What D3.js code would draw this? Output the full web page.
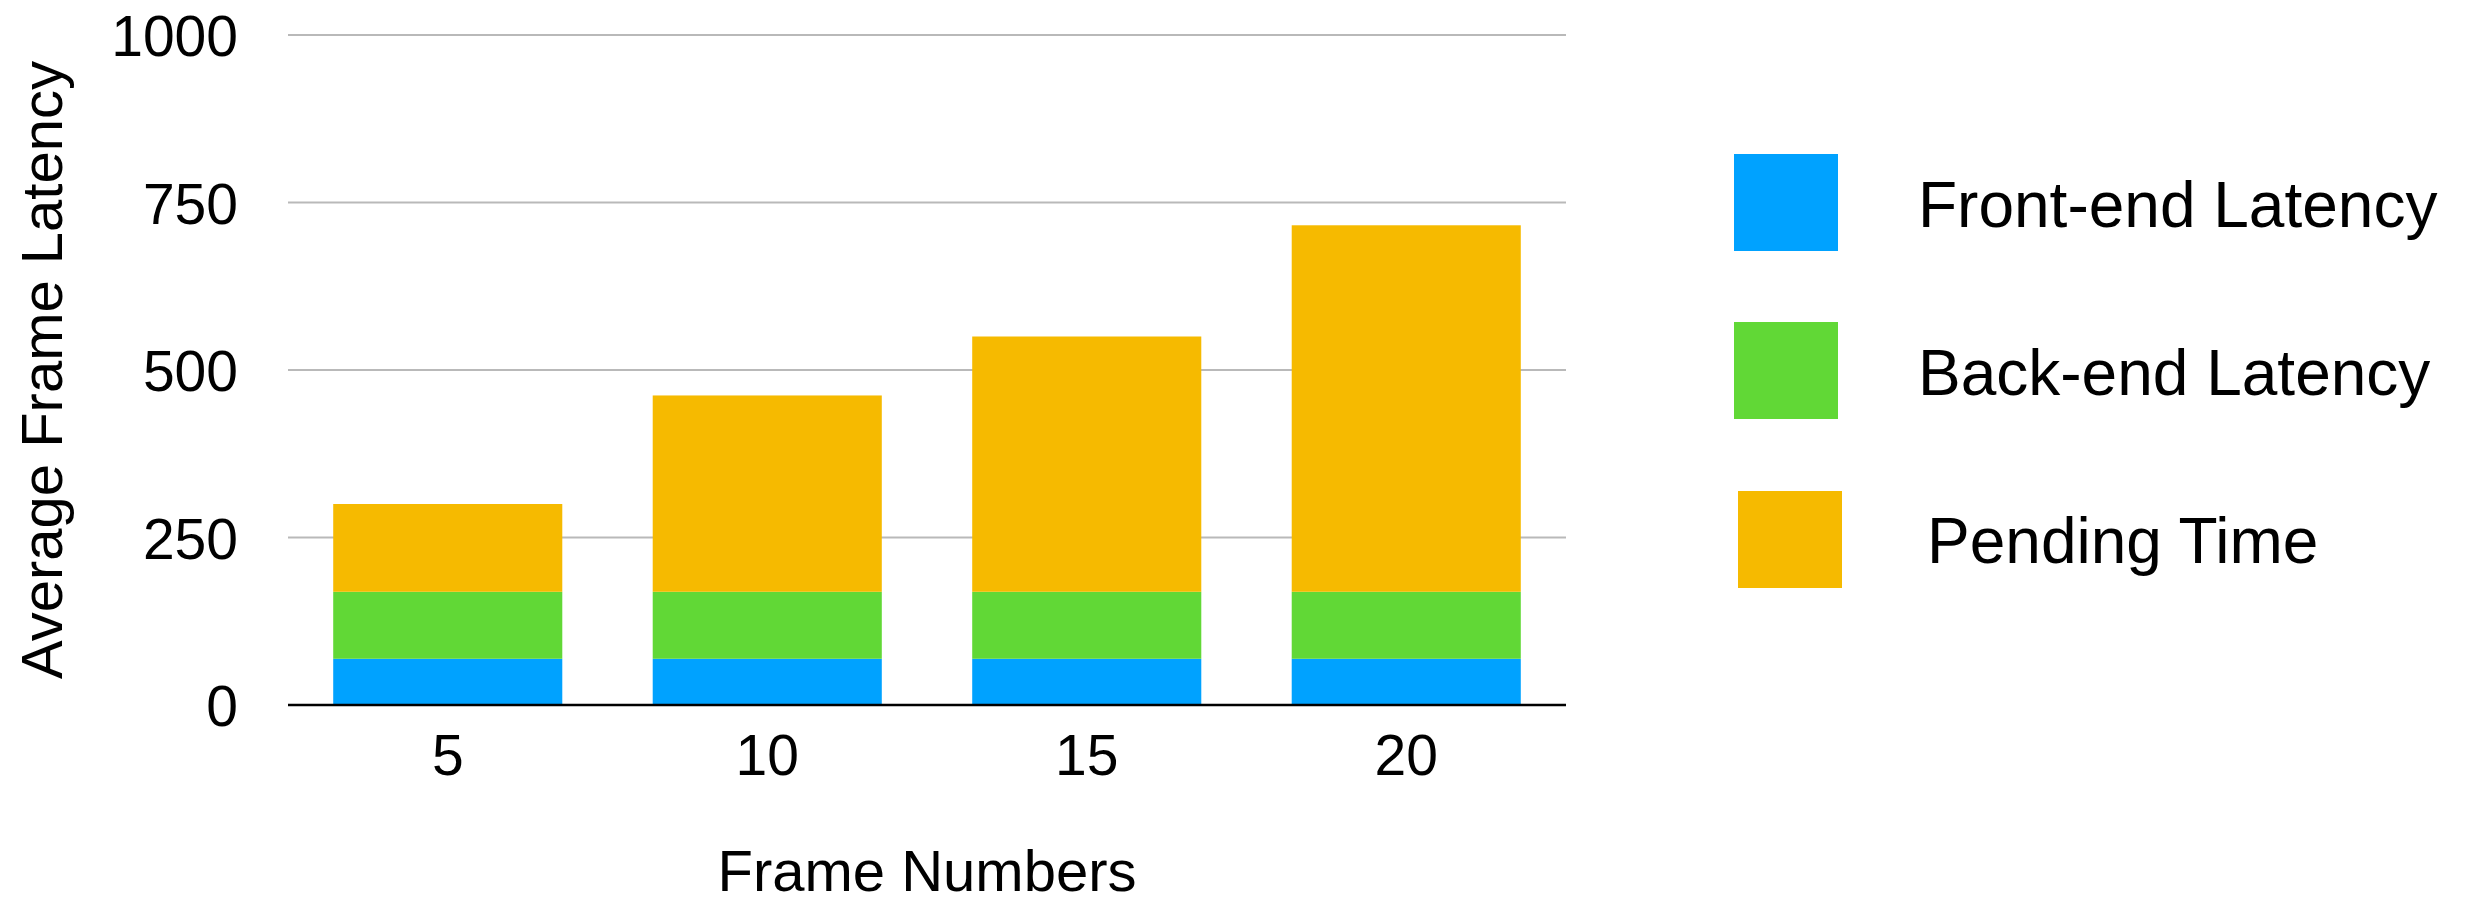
<!DOCTYPE html>
<html>
<head>
<meta charset="utf-8">
<script src="https://cdn.jsdelivr.net/npm/d3@7"></script>
<style>
  html, body { margin: 0; padding: 0; background: #fff; }
  svg { display: block; font-family: "Liberation Sans", Arial, Helvetica, sans-serif; }
</style>
</head>
<body>
<svg id="chart" width="2468" height="904"></svg>
<script>
// Frame counts on the x axis
const frameNumbers = ["5", "10", "15", "20"];

// Latency components (stacked bottom to top)
const frontEndLatency = [69, 69, 69, 69];
const backEndLatency  = [100, 100, 100, 100];
const pendingTime     = [131, 293, 381, 547];

const seriesNames  = ["Front-end Latency", "Back-end Latency", "Pending Time"];
const seriesColors = ["#00A2FF", "#61D836", "#F6BA00"];

const yTicks = [0, 250, 500, 750, 1000];

// Build rows for d3.stack
const rows = frameNumbers.map((f, i) => ({
  frame: f,
  "Front-end Latency": frontEndLatency[i],
  "Back-end Latency": backEndLatency[i],
  "Pending Time": pendingTime[i]
}));

const svg = d3.select("#chart");

const plot = { left: 288, right: 1566, top: 35, bottom: 705 };

const x = d3.scaleBand()
  .domain(frameNumbers)
  .range([plot.left, plot.right])
  .paddingInner(0.283)
  .paddingOuter(0.1415);

const y = d3.scaleLinear()
  .domain([0, 1000])
  .range([plot.bottom, plot.top]);

const color = d3.scaleOrdinal().domain(seriesNames).range(seriesColors);

// Horizontal gridlines
svg.append("g")
  .selectAll("line")
  .data(yTicks.filter(t => t > 0))
  .join("line")
  .attr("x1", plot.left)
  .attr("x2", plot.right)
  .attr("y1", d => y(d))
  .attr("y2", d => y(d))
  .attr("stroke", "#b9b9b9")
  .attr("stroke-width", 2.2);

// Y axis tick labels
const yAxis = d3.axisLeft(y)
  .tickValues(yTicks)
  .tickFormat(d3.format("d"))
  .tickSize(0)
  .tickPadding(50);
svg.append("g")
  .attr("transform", `translate(${plot.left},0)`)
  .call(yAxis)
  .call(g => g.select(".domain").remove())
  .call(g => g.selectAll("text")
    .attr("font-size", 57)
    .attr("fill", "#000")
    .attr("dy", "0.36em")
    .style("font-family", "'Liberation Sans', Arial, sans-serif"));

// Stacked bars
const stack = d3.stack().keys(seriesNames);
const layers = stack(rows);

svg.append("g")
  .selectAll("g")
  .data(layers)
  .join("g")
  .attr("fill", d => color(d.key))
  .selectAll("rect")
  .data(d => d)
  .join("rect")
  .attr("x", d => x(d.data.frame))
  .attr("width", x.bandwidth())
  .attr("y", d => y(d[1]))
  .attr("height", d => y(d[0]) - y(d[1]));

// X axis baseline and labels
const xAxis = d3.axisBottom(x).tickSize(0).tickPadding(30);
svg.append("g")
  .attr("transform", `translate(0,${plot.bottom})`)
  .call(xAxis)
  .call(g => g.select(".domain")
    .attr("stroke", "#000")
    .attr("stroke-width", 2.5)
    .attr("d", `M${plot.left},0H${plot.right}`))
  .call(g => g.selectAll("text")
    .attr("font-size", 57)
    .attr("fill", "#000")
    .attr("dy", "0.71em")
    .style("font-family", "'Liberation Sans', Arial, sans-serif"));

// Axis titles
svg.append("text")
  .attr("x", (plot.left + plot.right) / 2)
  .attr("y", 891)
  .attr("text-anchor", "middle")
  .attr("font-size", 58)
  .attr("fill", "#000")
  .text("Frame Numbers");

svg.append("text")
  .attr("transform", `translate(62,${(plot.top + plot.bottom) / 2}) rotate(-90)`)
  .attr("text-anchor", "middle")
  .attr("font-size", 58)
  .attr("fill", "#000")
  .text("Average Frame Latency");

// Legend
const legendRows = [
  { name: seriesNames[0], sx: 1734, sy: 154, tx: 1918, ty: 227 },
  { name: seriesNames[1], sx: 1734, sy: 322, tx: 1918, ty: 395 },
  { name: seriesNames[2], sx: 1738, sy: 491, tx: 1927, ty: 563 }
];

const legend = svg.append("g");
legend.selectAll("rect")
  .data(legendRows)
  .join("rect")
  .attr("x", d => d.sx)
  .attr("y", d => d.sy)
  .attr("width", 104)
  .attr("height", 97)
  .attr("fill", d => color(d.name));

legend.selectAll("text")
  .data(legendRows)
  .join("text")
  .attr("x", d => d.tx)
  .attr("y", d => d.ty)
  .attr("font-size", 64)
  .attr("fill", "#000")
  .text(d => d.name);
</script>
</body>
</html>
